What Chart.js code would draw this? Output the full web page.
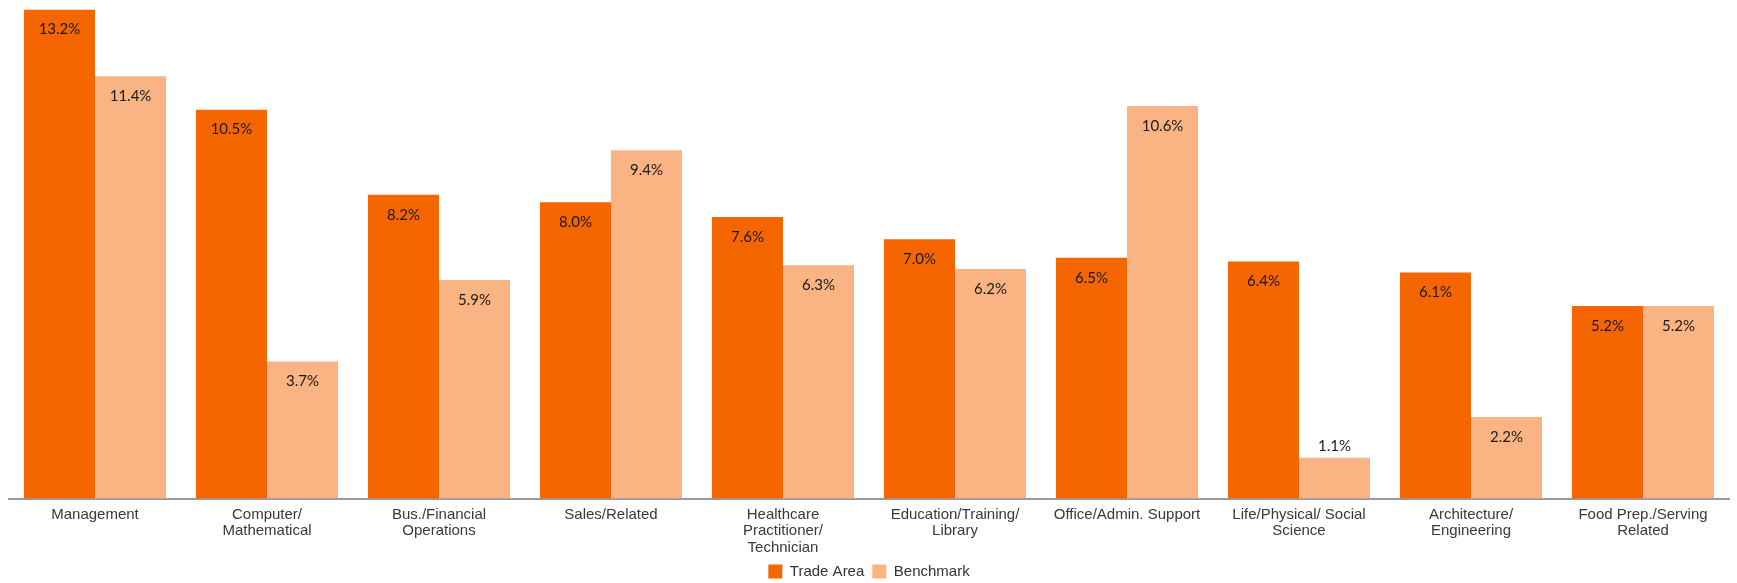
<!DOCTYPE html>
<html>
<head>
<meta charset="utf-8">
<script src="https://cdn.jsdelivr.net/npm/chart.js@4"></script>
<style>
  html, body { margin: 0; padding: 0; background: #fff; }
  #wrap { width: 1737px; height: 583px; position: relative; }
</style>
</head>
<body>
<div id="wrap"><canvas id="c"></canvas></div>
<script>
const categories = [
  ["Management"],
  ["Computer/", "Mathematical"],
  ["Bus./Financial", "Operations"],
  ["Sales/Related"],
  ["Healthcare", "Practitioner/", "Technician"],
  ["Education/Training/", "Library"],
  ["Office/Admin. Support"],
  ["Life/Physical/ Social", "Science"],
  ["Architecture/", "Engineering"],
  ["Food Prep./Serving", "Related"]
];
const tradeArea = [13.2, 10.5, 8.2, 8.0, 7.6, 7.0, 6.5, 6.4, 6.1, 5.2];
const benchmark = [11.4, 3.7, 5.9, 9.4, 6.3, 6.2, 10.6, 1.1, 2.2, 5.2];
const seriesNames = ["Trade Area", "Benchmark"];

const valueLabels = {
  id: 'valueLabels',
  afterDatasetsDraw(chart) {
    const ctx = chart.ctx;
    ctx.save();
    ctx.font = '15px Lato';
    ctx.fillStyle = '#1a1a1a';
    ctx.textAlign = 'center';
    ctx.textBaseline = 'middle';
    chart.data.datasets.forEach((ds, di) => {
      const meta = chart.getDatasetMeta(di);
      meta.data.forEach((bar, i) => {
        const v = ds.data[i];
        const h = bar.base - bar.y;
        const txt = v.toFixed(1) + '%';
        const y = h < 50 ? bar.y - 12 : bar.y + 20;
        ctx.fillText(txt, bar.x, y);
      });
    });
    ctx.restore();
  }
};

new Chart(document.getElementById('c'), {
  type: 'bar',
  data: {
    labels: categories,
    datasets: [
      { label: seriesNames[0], data: tradeArea, backgroundColor: '#F56600' },
      { label: seriesNames[1], data: benchmark, backgroundColor: '#FAB382' }
    ]
  },
  options: {
    responsive: true,
    maintainAspectRatio: false,
    animation: false,
    layout: { padding: { left: 9, right: 8, top: 0, bottom: -6 } },
    datasets: { bar: { barPercentage: 1.0, categoryPercentage: 0.826 } },
    scales: {
      x: {
        grid: { display: false },
        border: { display: true, color: '#9a9a9a', width: 2 },
        ticks: {
          color: '#343a40',
          font: { family: 'Liberation Sans', size: 15, lineHeight: 1.1 },
          padding: 0,
          maxRotation: 0,
          autoSkip: false
        }
      },
      y: {
        display: false,
        min: 0,
        max: 13.46
      }
    },
    plugins: {
      legend: {
        position: 'bottom',
        labels: {
          boxWidth: 14,
          boxHeight: 14,
          padding: 8,
          color: '#333',
          font: { family: 'Liberation Sans', size: 15 }
        }
      },
      tooltip: { enabled: false }
    }
  },
  plugins: [valueLabels]
});
</script>
</body>
</html>
